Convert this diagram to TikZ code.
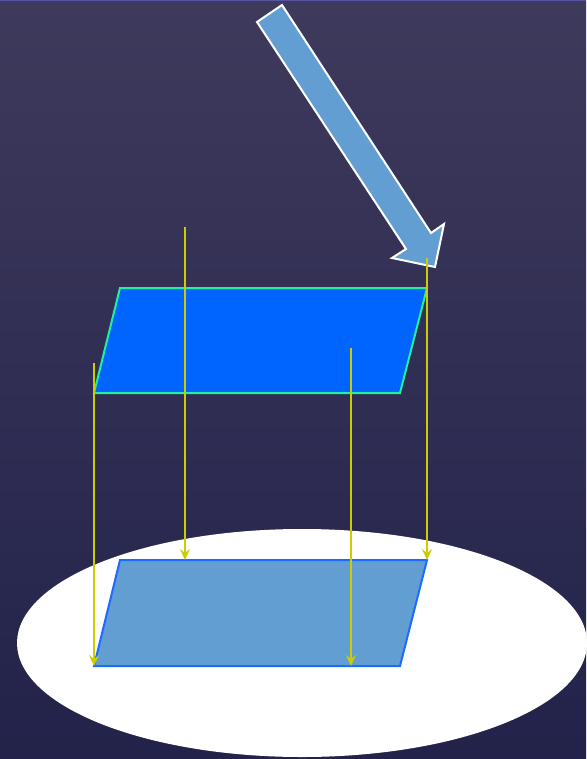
\documentclass[tikz,border=0pt]{standalone}
\usetikzlibrary{arrows.meta}
\definecolor{bgtop}{HTML}{3E3A5C}
\definecolor{bgbot}{HTML}{22224A}
\definecolor{rayc}{HTML}{CCCC00}
\definecolor{planeA}{HTML}{0064FF}
\definecolor{planeAedge}{HTML}{20F0A0}
\definecolor{planeB}{HTML}{639ED2}
\definecolor{planeBedge}{HTML}{1A6CFF}
\definecolor{bigarrow}{HTML}{639ED2}
\tikzset{
  ray/.style={draw=rayc, line width=2pt, -{Stealth[length=11pt,width=10pt,inset=4pt]}},
  planeup/.style={fill=planeA, draw=planeAedge, line width=2pt, line join=miter},
  planedown/.style={fill=planeB, draw=planeBedge, line width=2pt, line join=miter},
  sunarrow/.style={fill=bigarrow, draw=white, line width=2pt, line join=miter}
}
\begin{document}
\begin{tikzpicture}[x=1pt,y=-1pt]
\useasboundingbox (0,0) rectangle (586,759);
\shade[top color=bgtop, bottom color=bgbot] (0,0) rectangle (586,759);
\draw[color=bgtop!70!blue!80!white, line width=1pt] (0,0.5) -- (586,0.5);
% ground ellipse
\fill[white] (302,643) ellipse [x radius=285, y radius=114];
% sun arrow
\draw[sunarrow] (257,22) -- (282,5) -- (431,233) -- (444,224) -- (435,267) -- (392,258) -- (406,249) -- cycle;
% object plane
\draw[planeup] (120,288) coordinate (a1) -- (427,288) coordinate (a2) -- (400,393) coordinate (a3) -- (94,393) coordinate (a4) -- cycle;
% shadow plane
\draw[planedown] (120,560) coordinate (b1) -- (427,560) coordinate (b2) -- (400,666) coordinate (b3) -- (94,666) coordinate (b4) -- cycle;
% rays
\coordinate (s1) at (94,363);
\coordinate (s2) at (185,227);
\coordinate (s3) at (351,348);
\coordinate (s4) at (427,258);
\coordinate (e2) at (185,560);
\coordinate (e3) at (351,666);
\draw[ray] (s1) -- (b4);
\draw[ray] (s2) -- (e2);
\draw[ray] (s3) -- (e3);
\draw[ray] (s4) -- (b2);
\end{tikzpicture}
\end{document}
